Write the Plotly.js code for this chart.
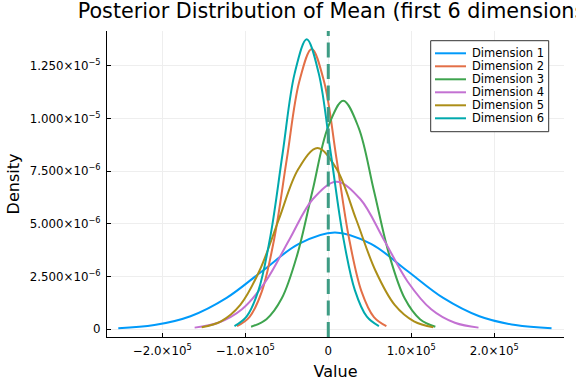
<!DOCTYPE html>
<html>
<head>
<meta charset="utf-8">
<script src="https://cdn.plot.ly/plotly-3.0.1.min.js"></script>
<style>
  html, body { margin: 0; padding: 0; background: #ffffff; }
  #chart { width: 576px; height: 384px; }
</style>
</head>
<body>
<div id="chart"></div>
<script>
// ---------------- data ----------------
const dimNames = ['Dimension 1', 'Dimension 2', 'Dimension 3', 'Dimension 4', 'Dimension 5', 'Dimension 6'];

const dim1X = [-253000, -209500, -166000, -122500, -79000, -35500, 8000, 51500, 95000, 138500, 182000, 225500, 269000];
const dim1Y = [0.05e-6, 0.20e-6, 0.62e-6, 1.49e-6, 2.78e-6, 4.05e-6, 4.59e-6, 4.05e-6, 2.78e-6, 1.49e-6, 0.62e-6, 0.20e-6, 0.05e-6];

const dim2X = [-110000, -95000, -80000, -65000, -50000, -35000, -20000, -5000, 10000, 25000, 40000, 55000, 70000];
const dim2Y = [0.15e-6, 0.58e-6, 1.80e-6, 4.32e-6, 8.07e-6, 11.74e-6, 13.30e-6, 11.74e-6, 8.07e-6, 4.32e-6, 1.80e-6, 0.58e-6, 0.15e-6];

const dim3X = [-93000, -74500, -56000, -37500, -19000, -500, 18000, 36500, 55000, 73500, 92000, 110500, 129000];
const dim3Y = [0.12e-6, 0.48e-6, 1.47e-6, 3.52e-6, 6.57e-6, 9.57e-6, 10.84e-6, 9.57e-6, 6.57e-6, 3.52e-6, 1.47e-6, 0.48e-6, 0.12e-6];

const dim4X = [-161000, -132500, -104000, -75500, -47000, -18500, 10000, 38500, 67000, 95500, 124000, 152500, 181000];
const dim4Y = [0.08e-6, 0.31e-6, 0.95e-6, 2.27e-6, 4.25e-6, 6.18e-6, 7.00e-6, 6.18e-6, 4.25e-6, 2.27e-6, 0.95e-6, 0.31e-6, 0.08e-6];

const dim5X = [-152500, -129250, -106000, -82750, -59500, -36250, -13000, 10250, 33500, 56750, 80000, 103250, 126500];
const dim5Y = [0.10e-6, 0.38e-6, 1.16e-6, 2.79e-6, 5.22e-6, 7.59e-6, 8.60e-6, 7.59e-6, 5.22e-6, 2.79e-6, 1.16e-6, 0.38e-6, 0.10e-6];

const dim6X = [-113000, -98500, -84000, -69500, -55000, -40500, -26000, -11500, 3000, 17500, 32000, 46500, 61000];
const dim6Y = [0.15e-6, 0.60e-6, 1.86e-6, 4.47e-6, 8.35e-6, 12.14e-6, 13.76e-6, 12.14e-6, 8.35e-6, 4.47e-6, 1.86e-6, 0.60e-6, 0.15e-6];

const refLineX = 0;   // dashed reference line

const xTickVals = [-2e5, -1e5, 0, 1e5, 2e5];
const xTickText = ['\u22122.0\u00d710<sup>5</sup>', '\u22121.0\u00d710<sup>5</sup>', '0', '1.0\u00d710<sup>5</sup>', '2.0\u00d710<sup>5</sup>'];
const yTickVals = [0, 2.5e-6, 5e-6, 7.5e-6, 1e-5, 1.25e-5];
const yTickText = ['0', '2.500\u00d710<sup>\u22126</sup>', '5.000\u00d710<sup>\u22126</sup>', '7.500\u00d710<sup>\u22126</sup>', '1.000\u00d710<sup>\u22125</sup>', '1.250\u00d710<sup>\u22125</sup>'];

// ---------------- styling ----------------
const seriesX = [dim1X, dim2X, dim3X, dim4X, dim5X, dim6X];
const seriesY = [dim1Y, dim2Y, dim3Y, dim4Y, dim5Y, dim6Y];
const colors = ['#009AFA', '#E36F47', '#3EA44E', '#C371D2', '#AC8E18', '#00A9AD'];
const FONT = 'DejaVu Sans, sans-serif';

const W = 576, H = 384;
const M = { l: 107, r: 12, t: 31, b: 47 };
const PW = W - M.l - M.r, PH = H - M.t - M.b;
const px2x = p => (p - M.l) / PW;          // pixel -> paper x
const py2y = p => (H - M.b - p) / PH;      // pixel -> paper y

const traces = seriesX.map((xs, i) => ({
  type: 'scatter',
  mode: 'lines',
  name: dimNames[i],
  x: xs,
  y: seriesY[i],
  line: { color: colors[i], width: 2, shape: 'spline', smoothing: 1 },
  showlegend: false,
  hoverinfo: 'x+y+name'
}));

// custom legend (compact, like the reference)
const shapes = [
  { type: 'line', xref: 'x', yref: 'paper', x0: refLineX, x1: refLineX, y0: 0, y1: 1,
    line: { color: '#3E9C84', width: 3, dash: '15px,6.5px' }, layer: 'above' },
  { type: 'rect', xref: 'paper', yref: 'paper',
    x0: px2x(430.7), x1: px2x(548.7), y0: py2y(40.7), y1: py2y(131.7),
    line: { color: '#333333', width: 1 }, fillcolor: '#ffffff', layer: 'above' }
];
const annotations = [];
dimNames.forEach((n, i) => {
  const yy = 53.3 + i * 13;
  shapes.push({ type: 'line', xref: 'paper', yref: 'paper',
    x0: px2x(435), x1: px2x(466), y0: py2y(yy), y1: py2y(yy),
    line: { color: colors[i], width: 2 }, layer: 'above' });
  annotations.push({ xref: 'paper', yref: 'paper', x: px2x(469.5), y: py2y(yy),
    xanchor: 'left', yanchor: 'middle', text: n, showarrow: false,
    font: { family: FONT, size: 11.5, color: '#000000' } });
});

const axisCommon = {
  showline: true, linecolor: '#000000', linewidth: 1, mirror: false,
  ticks: 'inside', ticklen: 4, tickcolor: '#000000', tickwidth: 1,
  showgrid: true, gridcolor: '#eeeeee', gridwidth: 1,
  zeroline: false,
  tickfont: { family: FONT, size: 11.8, color: '#000000' },
  tickmode: 'array'
};

const layout = {
  width: W, height: H,
  margin: M,
  paper_bgcolor: '#ffffff', plot_bgcolor: '#ffffff',
  font: { family: FONT, color: '#000000' },
  title: {
    text: 'Posterior Distribution of Mean (first 6 dimensions)',
    font: { family: FONT, size: 20.7, color: '#000000' },
    xref: 'container', yref: 'container',
    x: 335.5 / W, xanchor: 'center',
    y: 1 - 10.5 / H, yanchor: 'middle'
  },
  xaxis: Object.assign({}, axisCommon, {
    range: [-2.666e5, 2.840e5],
    tickvals: xTickVals, ticktext: xTickText,
    ticklabelstandoff: 3,
    title: { text: 'Value', font: { family: FONT, size: 16, color: '#000000' }, standoff: 8 }
  }),
  yaxis: Object.assign({}, axisCommon, {
    range: [-0.365e-6, 14.15e-6],
    tickvals: yTickVals, ticktext: yTickText,
    ticklabelstandoff: 3,
    title: { text: 'Density', font: { family: FONT, size: 16, color: '#000000' }, standoff: 6 }
  }),
  shapes: shapes,
  annotations: annotations,
  showlegend: false
};

Plotly.newPlot('chart', traces, layout, { displayModeBar: false, staticPlot: true });
</script>
</body>
</html>
